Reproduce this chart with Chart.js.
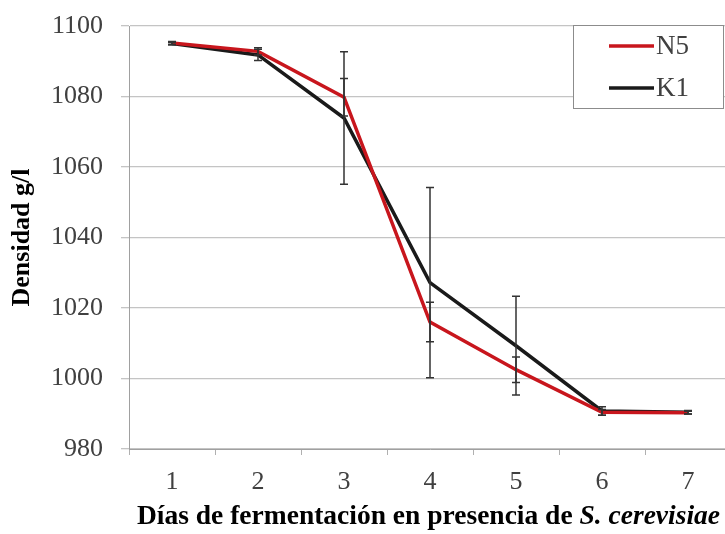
<!DOCTYPE html>
<html>
<head>
<meta charset="utf-8">
<script src="https://cdn.jsdelivr.net/npm/chart.js@4"></script>
<style>
  html, body { margin: 0; padding: 0; background: #fff; overflow: hidden; }
  #wrap { width: 735px; height: 534px; }
</style>
</head>
<body>
<div id="wrap"><canvas id="densidad"></canvas></div>
<script>
const dias = ['1', '2', '3', '4', '5', '6', '7'];
const n5 = [1095.2, 1092.8, 1079.8, 1016.0, 1002.5, 990.4, 990.3];
const k1 = [1095.0, 1091.8, 1073.9, 1027.2, 1009.3, 990.8, 990.4];
const n5Err = [0.4, 1.0, 5.3, 5.6, 3.6, 0.8, 0.4];
const k1Err = [0.4, 1.6, 18.8, 27.0, 14.0, 1.2, 0.5];
const yTicks = [980, 1000, 1020, 1040, 1060, 1080, 1100];

const serif = '"Liberation Serif", "DejaVu Serif", serif';

// barras de error (dibujadas encima de las lineas)
const errorBars = {
  id: 'errorBars',
  afterDatasetsDraw(chart) {
    const ctx = chart.ctx;
    const x = chart.scales.x;
    const y = chart.scales.y;
    const sets = [[n5, n5Err], [k1, k1Err]];
    ctx.save();
    ctx.strokeStyle = '#333333';
    ctx.lineWidth = 1.5;
    sets.forEach(([vals, errs]) => {
      vals.forEach((v, i) => {
        const px = x.getPixelForValue(i);
        const top = y.getPixelForValue(v + errs[i]);
        const bot = y.getPixelForValue(v - errs[i]);
        ctx.beginPath();
        ctx.moveTo(px, top); ctx.lineTo(px, bot);
        ctx.moveTo(px - 4, top); ctx.lineTo(px + 4, top);
        ctx.moveTo(px - 4, bot); ctx.lineTo(px + 4, bot);
        ctx.stroke();
      });
    });
    ctx.restore();
  }
};

// leyenda y titulo del eje X con parte en cursiva
const extras = {
  id: 'extras',
  afterDraw(chart) {
    const ctx = chart.ctx;
    ctx.save();
    // leyenda
    ctx.fillStyle = '#ffffff';
    ctx.fillRect(573, 25, 151, 84);
    ctx.strokeStyle = '#8c8c8c';
    ctx.lineWidth = 1;
    ctx.strokeRect(573.5, 25.5, 150, 83);
    const items = [['N5', '#c8161d', 46], ['K1', '#1a1a1a', 88]];
    items.forEach(([txt, col, ly]) => {
      ctx.strokeStyle = col;
      ctx.lineWidth = 3.5;
      ctx.beginPath();
      ctx.moveTo(609, ly); ctx.lineTo(654, ly);
      ctx.stroke();
      ctx.fillStyle = '#404040';
      ctx.font = '27px ' + serif;
      ctx.textBaseline = 'middle';
      ctx.fillText(txt, 656, ly + 1);
    });
    // titulo eje X
    const a = 'Días de fermentación en presencia de ';
    const b = 'S. cerevisiae';
    ctx.fillStyle = '#000000';
    ctx.textBaseline = 'middle';
    ctx.font = 'bold 27.5px ' + serif;
    ctx.fillText(a, 137, 517);
    const w = ctx.measureText(a).width;
    ctx.font = 'italic bold 27.5px ' + serif;
    ctx.fillText(b, 137 + w, 517);
    ctx.restore();
  }
};

new Chart(document.getElementById('densidad'), {
  type: 'line',
  data: {
    labels: dias,
    datasets: [
      { label: 'K1', data: k1, borderColor: '#1a1a1a', borderWidth: 3.5, pointRadius: 0, tension: 0, order: 2 },
      { label: 'N5', data: n5, borderColor: '#c8161d', borderWidth: 3.5, pointRadius: 0, tension: 0, order: 1 }
    ]
  },
  options: {
    responsive: true,
    maintainAspectRatio: false,
    animation: false,
    layout: { padding: { top: 26, right: 4, left: 0, bottom: 0 } },
    plugins: { legend: { display: false }, tooltip: { enabled: false } },
    scales: {
      x: {
        type: 'category',
        offset: true,
        grid: { display: true, offset: true, drawOnChartArea: false, drawTicks: true, tickLength: 6, color: '#b0b0b0' },
        border: { color: '#a0a0a0' },
        ticks: { color: '#404040', font: { family: serif, size: 26 }, padding: 12, maxRotation: 0 },
        afterFit(scale) { scale.height = 85; }
      },
      y: {
        min: 980,
        max: 1100,
        afterBuildTicks(scale) { scale.ticks = yTicks.map(v => ({ value: v })); },
        grid: { color: '#c4c4c4', tickLength: 8, lineWidth: 1.3 },
        border: { color: '#a0a0a0' },
        ticks: { color: '#404040', font: { family: serif, size: 26 }, padding: 18, callback: v => String(v) },
        title: { display: true, text: 'Densidad g/l', color: '#000', font: { family: serif, size: 26, weight: 'bold' }, padding: { top: 7, bottom: 0 } },
        afterFit(scale) {
          scale.width = 129;
          scale.paddingTop = 0;
          scale.paddingBottom = 0;
        }
      }
    }
  },
  plugins: [errorBars, extras]
});
</script>
</body>
</html>
